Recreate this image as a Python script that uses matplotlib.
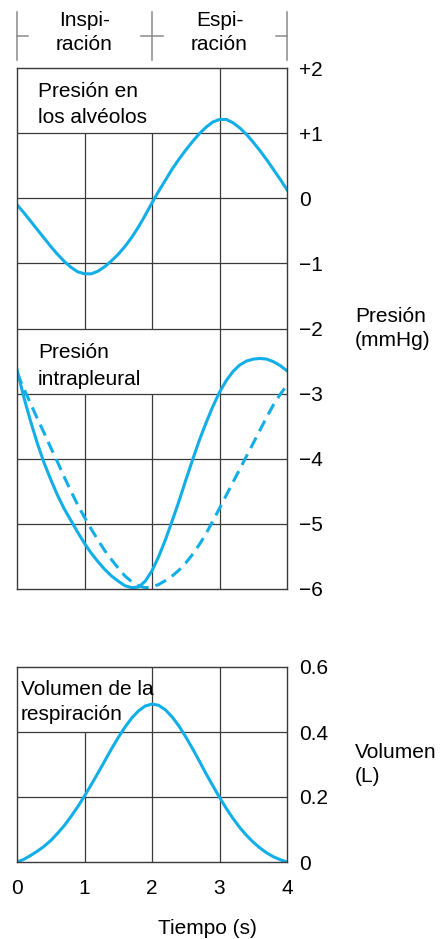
import numpy as np
import matplotlib
matplotlib.use("Agg")
import matplotlib.pyplot as plt
from matplotlib.transforms import blended_transform_factory

plt.rcParams["font.family"] = ["Liberation Sans", "DejaVu Sans"]

# Data (every 0.1 s)
t = [round(0.1 * i, 1) for i in range(41)]

p_alveolar = [-0.10, -0.22, -0.35, -0.48, -0.61, -0.74, -0.86, -0.97, -1.06, -1.13,
              -1.16, -1.16, -1.12, -1.05, -0.96, -0.86, -0.74, -0.60, -0.44, -0.26,
              -0.07, 0.11, 0.28, 0.45, 0.60, 0.74, 0.87, 0.99, 1.09, 1.17,
              1.21, 1.21, 1.16, 1.08, 0.98, 0.86, 0.73, 0.59, 0.44, 0.29,
              0.13]

p_pleural = [-2.63, -3.05, -3.42, -3.76, -4.06, -4.32, -4.56, -4.77, -4.95, -5.13,
             -5.30, -5.45, -5.58, -5.70, -5.80, -5.88, -5.95, -5.98, -5.97, -5.88,
             -5.72, -5.50, -5.24, -4.95, -4.65, -4.33, -4.02, -3.72, -3.45, -3.20,
             -2.98, -2.80, -2.66, -2.56, -2.50, -2.47, -2.46, -2.47, -2.51, -2.57,
             -2.65]

p_pleural_dash = [-2.68, -2.92, -3.15, -3.38, -3.60, -3.83, -4.05, -4.28, -4.50, -4.71,
                  -4.90, -5.08, -5.25, -5.41, -5.55, -5.68, -5.80, -5.89, -5.95, -5.98,
                  -5.97, -5.93, -5.87, -5.80, -5.71, -5.60, -5.47, -5.32, -5.15, -4.96,
                  -4.76, -4.56, -4.36, -4.16, -3.96, -3.76, -3.56, -3.36, -3.17, -3.01,
                  -2.87]

volume = [0.000, 0.008, 0.020, 0.033, 0.048, 0.066, 0.088, 0.112, 0.140, 0.170,
          0.203, 0.238, 0.274, 0.311, 0.348, 0.383, 0.415, 0.443, 0.465, 0.480,
          0.486, 0.482, 0.468, 0.446, 0.418, 0.385, 0.349, 0.311, 0.272, 0.235,
          0.199, 0.165, 0.134, 0.106, 0.082, 0.061, 0.043, 0.028, 0.016, 0.007,
          0.000]

p_ticks = [2, 1, 0, -1, -2, -3, -4, -5, -6]
p_ticklabels = ["+2", "+1", "0", "\u22121", "\u22122", "\u22123", "\u22124", "\u22125", "\u22126"]
v_ticks = [0.6, 0.4, 0.2, 0]
v_ticklabels = ["0.6", "0.4", "0.2", "0"]
t_ticks = [0, 1, 2, 3, 4]

phase_edges = [0, 2, 4]
phase_labels = ["Inspi-\nración", "Espi-\nración"]

BLUE = "#12aee8"
GRID = "#3a3a3a"
FS = 15

W, H = 444, 939
fig = plt.figure(figsize=(W / 100, H / 100), dpi=100)

def px_axes(left, top, right, bottom):
    return fig.add_axes([left / W, 1 - bottom / H, (right - left) / W, (bottom - top) / H])

ax_p = px_axes(17, 68, 287, 589)
ax_v = px_axes(17, 667, 287, 862)

for ax in (ax_p, ax_v):
    ax.set_xlim(0, 4)
    for s in ax.spines.values():
        s.set_color(GRID)
        s.set_linewidth(1.0)
    ax.yaxis.tick_right()
    ax.tick_params(axis="y", length=0, pad=9, labelsize=FS)

# Pressure panel
ax_p.set_ylim(-6, 2)
ax_p.set_yticks(p_ticks)
ax_p.set_yticklabels(p_ticklabels)
ax_p.set_xticks([])
ax_p.hlines([1, 0, -1, -2, -3, -4, -5], 0, 4, color=GRID, lw=0.9)
ax_p.vlines([1, 2], 1, -2, color=GRID, lw=0.9)
ax_p.vlines([1, 2], -3, -6, color=GRID, lw=0.9)
ax_p.vlines([3], 2, -6, color=GRID, lw=0.9)

ax_p.plot(t, p_alveolar, color=BLUE, lw=2.2)
ax_p.plot(t, p_pleural, color=BLUE, lw=2.2)
ax_p.plot(t, p_pleural_dash, color=BLUE, lw=2.2, dashes=(3.9, 2.3))

ax_p.text(0.078, 0.930, "Presión en\nlos alvéolos", transform=ax_p.transAxes,
          fontsize=FS, va="center", ha="left", linespacing=1.5)
ax_p.text(0.078, 0.428, "Presión\nintrapleural", transform=ax_p.transAxes,
          fontsize=FS, va="center", ha="left", linespacing=1.5)
ax_p.text(1.252, -2, "Presión\n(mmHg)",
          transform=blended_transform_factory(ax_p.transAxes, ax_p.transData),
          fontsize=FS, va="center", ha="left", linespacing=1.4)

# Volume panel
ax_v.set_ylim(0, 0.6)
ax_v.set_yticks(v_ticks)
ax_v.set_yticklabels(v_ticklabels)
ax_v.set_xticks(t_ticks)
ax_v.tick_params(axis="x", length=0, pad=12, labelsize=FS)
ax_v.hlines([0.4, 0.2], 0, 4, color=GRID, lw=0.9)
ax_v.vlines([1], 0.4, 0, color=GRID, lw=0.9)
ax_v.vlines([2, 3], 0.6, 0, color=GRID, lw=0.9)
ax_v.plot(t, volume, color=BLUE, lw=2.2)

ax_v.text(0.014, 0.818, "Volumen de la\nrespiración", transform=ax_v.transAxes,
          fontsize=FS, va="center", ha="left", linespacing=1.4)
ax_v.text(1.252, 0.5, "Volumen\n(L)", transform=ax_v.transAxes,
          fontsize=FS, va="center", ha="left", linespacing=1.4)

fig.text(207 / W, 1 - 928 / H, "Tiempo (s)", fontsize=FS, ha="center", va="center")

# Inspiration / expiration brackets above the top panel
tr = blended_transform_factory(ax_p.transData, fig.transFigure)
y0, y1, ym = 1 - 12 / H, 1 - 60 / H, 1 - 36 / H
half = 0.17
for e in phase_edges:
    ax_p.plot([e, e], [y0, y1], transform=tr, color="#8a8a8a", lw=1.1, clip_on=False)
    ax_p.plot([max(e - half, phase_edges[0]), min(e + half, phase_edges[-1])], [ym, ym],
              transform=tr, color="#8a8a8a", lw=1.1, clip_on=False)
for a, b, lab in zip(phase_edges[:-1], phase_edges[1:], phase_labels):
    ax_p.text((a + b) / 2, 1 - 32.5 / H, lab, transform=tr, fontsize=FS,
              ha="center", va="center", multialignment="center", linespacing=1.4)

fig.savefig("out.png", dpi=100)
